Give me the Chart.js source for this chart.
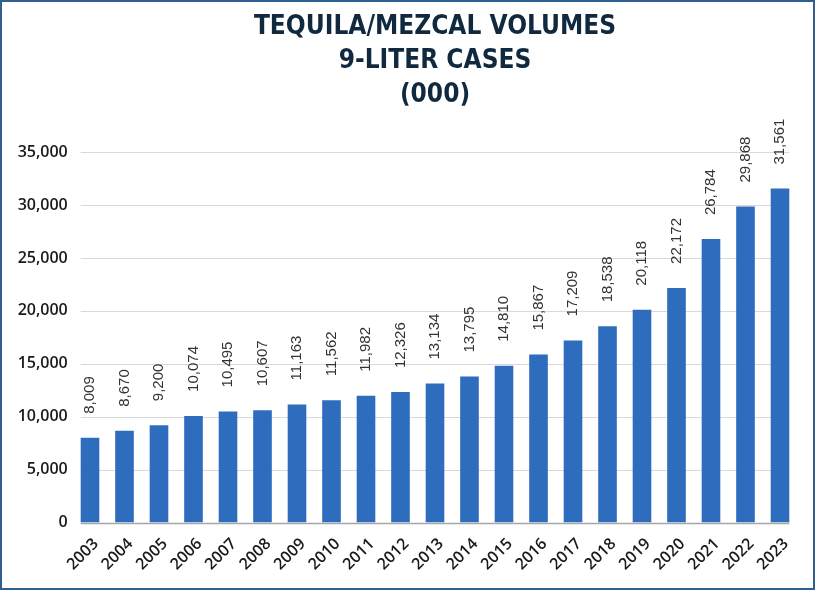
<!DOCTYPE html>
<html>
<head>
<meta charset="utf-8">
<script src="https://cdn.jsdelivr.net/npm/chart.js@4.4.0/dist/chart.umd.min.js"></script>
<style>
  html, body { margin: 0; padding: 0; background: #fff; }
  #wrap { position: relative; width: 815px; height: 590px; }
  #frame { position: absolute; left: 0; top: 0; right: 0; bottom: 0; border: 2px solid #2f5f8f; pointer-events: none; }
  canvas { position: absolute; left: 0; top: 0; }
</style>
</head>
<body>
<div id="wrap">
  <canvas id="chart" width="815" height="590"></canvas>
  <div id="frame"></div>
</div>
<script>
const years = ["2003", "2004", "2005", "2006", "2007", "2008", "2009", "2010", "2011", "2012", "2013",
               "2014", "2015", "2016", "2017", "2018", "2019", "2020", "2021", "2022", "2023"];
const volumes = [8009, 8670, 9200, 10074, 10495, 10607, 11163, 11562, 11982, 12326, 13134,
                 13795, 14810, 15867, 17209, 18538, 20118, 22172, 26784, 29868, 31561];
const yTicks = [0, 5000, 10000, 15000, 20000, 25000, 30000, 35000];
const titleLines = ["TEQUILA/MEZCAL VOLUMES", "9-LITER CASES", "(000)"];

const fmt = v => v.toLocaleString("en-US");
const axisFont = { family: "'Open Sans', sans-serif", size: 16, weight: "600" };

// horizontal grid lines only across the bars, like the original
const gridPlugin = {
    id: "barGrid",
    beforeDatasetsDraw(chart) {
        const { ctx, scales: { y } } = chart;
        const bars = chart.getDatasetMeta(0).data;
        const first = bars[0], last = bars[bars.length - 1];
        const x0 = first.x - first.width / 2;
        const x1 = last.x + last.width / 2;
        ctx.save();
        y.ticks.forEach(t => {
            const py = Math.round(y.getPixelForValue(t.value)) + 0.5;
            ctx.beginPath();
            ctx.strokeStyle = t.value === 0 ? "#a6a6a6" : "#d9d9d9";
            ctx.lineWidth = t.value === 0 ? 1.5 : 1;
            ctx.moveTo(x0, py);
            ctx.lineTo(x1, py);
            ctx.stroke();
        });
        ctx.restore();
    }
};

// vertical value labels above each bar
const valueLabels = {
    id: "valueLabels",
    afterDatasetsDraw(chart) {
        const { ctx } = chart;
        const meta = chart.getDatasetMeta(0);
        ctx.save();
        ctx.font = "15px 'Liberation Sans', Arial, sans-serif";
        ctx.fillStyle = "#333333";
        ctx.textAlign = "left";
        ctx.textBaseline = "middle";
        meta.data.forEach((bar, i) => {
            ctx.save();
            ctx.translate(bar.x, bar.y - 24);
            ctx.rotate(-Math.PI / 2);
            ctx.fillText(fmt(volumes[i]), 0, 0);
            ctx.restore();
        });
        ctx.restore();
    }
};

new Chart(document.getElementById("chart"), {
    type: "bar",
    data: {
        labels: years,
        datasets: [{
            data: volumes,
            backgroundColor: "#2e6dbd",
            categoryPercentage: 1,
            barPercentage: 0.54
        }]
    },
    options: {
        responsive: false,
        animation: false,
        layout: { padding: { left: 0, right: 17.75, top: 0, bottom: 0 } },
        plugins: {
            legend: { display: false },
            tooltip: { enabled: false },
            title: {
                display: true,
                fullSize: false,
                text: titleLines,
                color: "#10293f",
                font: { family: "'Liberation Sans Narrow', 'DejaVu Sans Condensed', sans-serif", size: 26, weight: "bold", lineHeight: 1.31 },
                padding: { top: 10, bottom: 40 }
            }
        },
        scales: {
            x: {
                grid: { display: false, drawTicks: false },
                border: { display: false },
                ticks: { color: "#1a1a1a", font: axisFont, minRotation: 45, maxRotation: 45, padding: 12, labelOffset: 6 },
                afterFit: s => { s.height = 67.5; }
            },
            y: {
                min: 0,
                max: 35000,
                grid: { display: false, drawTicks: false },
                border: { display: false },
                afterBuildTicks: s => { s.ticks = yTicks.map(v => ({ value: v })); },
                ticks: { color: "#1a1a1a", font: axisFont, padding: 5, callback: v => fmt(v) },
                afterFit: s => { s.width = 72.75; }
            }
        }
    },
    plugins: [gridPlugin, valueLabels]
});
</script>
</body>
</html>
